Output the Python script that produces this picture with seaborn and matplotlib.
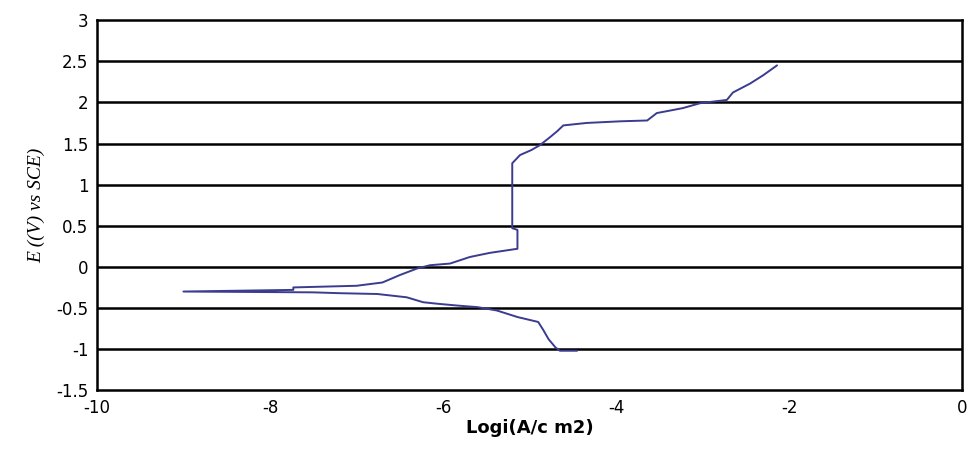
# polarisation curve: E vs log(i)

import matplotlib
matplotlib.use("Agg")
import matplotlib.pyplot as plt
import seaborn as sns
import pandas as pd

# log current density, ordered along the scan
log_i = [-4.45, -4.65, -4.70, -4.78, -4.84, -4.90, -5.02, -5.14, -5.26, -5.38,
         -5.60, -5.84, -6.05, -6.23, -6.42, -6.76, -7.20, -7.50, -9.00, -7.73,
         -7.73, -7.00, -6.70, -6.50, -6.30, -6.15, -5.92, -5.69, -5.46, -5.14,
         -5.14, -5.20, -5.20, -5.11, -4.98, -4.88, -4.76, -4.68, -4.61, -4.34,
         -3.95, -3.64, -3.53, -3.23, -3.03, -2.72, -2.65, -2.45, -2.30, -2.14]
# potential, V vs SCE
potential = [-1.02, -1.02, -0.98, -0.88, -0.77, -0.67, -0.64, -0.61, -0.57, -0.53,
             -0.49, -0.47, -0.45, -0.43, -0.37, -0.33, -0.32, -0.31, -0.30, -0.28,
             -0.25, -0.23, -0.19, -0.10, -0.02, 0.02, 0.04, 0.12, 0.17, 0.22,
             0.45, 0.47, 1.26, 1.36, 1.42, 1.48, 1.58, 1.65, 1.72, 1.75,
             1.77, 1.78, 1.87, 1.93, 1.99, 2.03, 2.12, 2.23, 2.33, 2.45]

x_ticks = [-10, -8, -6, -4, -2, 0]
y_ticks = [-1.5, -1, -0.5, 0, 0.5, 1, 1.5, 2, 2.5, 3]
y_labels = ["-1.5", "-1", "-0.5", "0", "0.5", "1", "1.5", "2", "2.5", "3"]

df = pd.DataFrame({"log_i": log_i, "E": potential})

sns.set_style("white")
fig = plt.figure(figsize=(9.69, 4.58), dpi=100)
ax = fig.add_axes([0.100, 0.148, 0.893, 0.808])

for y in y_ticks[1:-1]:
    ax.axhline(y, color="black", lw=1.8, zorder=1)

sns.lineplot(data=df, x="log_i", y="E", sort=False, estimator=None,
             color="#3b3b8f", lw=1.4, ax=ax, zorder=3)

ax.set_xlim(-10, 0)
ax.set_ylim(-1.5, 3)
ax.set_xticks(x_ticks)
ax.set_xticklabels([str(t) for t in x_ticks], fontsize=12, color="black")
ax.set_yticks(y_ticks)
ax.set_yticklabels(y_labels, fontsize=12, color="black")
ax.tick_params(length=0, pad=6)

for s in ax.spines.values():
    s.set_color("black")
    s.set_linewidth(1.8)

ax.set_xlabel("Logi(A/c m2)", fontsize=13, fontweight="bold", color="black", labelpad=2)
ax.set_ylabel("E ((V) vs SCE)", fontsize=14, fontstyle="italic", color="black",
              family="Liberation Serif", labelpad=8)

fig.savefig("out.png", dpi=100)
